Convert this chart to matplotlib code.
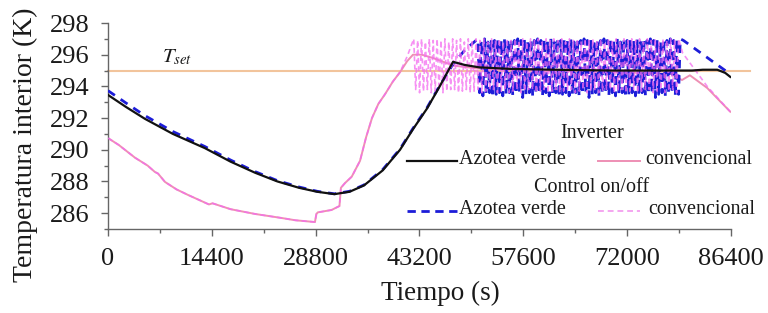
import numpy as np
import matplotlib
matplotlib.use("Agg")
import matplotlib.pyplot as plt
from matplotlib.lines import Line2D

plt.rcParams['font.family'] = ['Liberation Serif', 'DejaVu Serif']
plt.rcParams['mathtext.fontset'] = 'stix'

# ---------------- data ----------------
T_SET = 295.0

# Inverter - azotea verde (black, solid)
inv_verde_t = [0, 2500, 5130, 9000, 13450, 17000, 20400, 23500, 26500, 29000, 31400,
               33500, 35500, 38100, 40500, 42300, 44240, 46000, 47850, 49500, 51500,
               56000, 62000, 70000, 78000, 81000, 82500, 84500, 85600, 86300]
inv_verde_v = [293.46, 292.7, 291.95, 291.0, 290.1, 289.25, 288.55, 288.0, 287.6, 287.35, 287.2,
               287.35, 287.75, 288.7, 290.0, 291.3, 292.6, 294.0, 295.55, 295.35, 295.2,
               295.1, 295.05, 295.0, 295.0, 295.0, 295.05, 295.05, 294.85, 294.6]

# Inverter - convencional (pink, solid)
inv_conv_t = [0, 1500, 3744, 5500, 6500, 6934, 7905, 9500, 11094, 14000, 14500, 17000,
              20385, 24000, 26000, 28700, 28900, 29100, 31000, 32100, 32300, 32870,
              33800, 34950, 35800, 36610, 37500, 38410, 39500, 40500, 41500, 42300,
              43500, 45000, 48000, 52000, 60000, 70000, 78000, 79600, 80700, 83100, 86300]
inv_conv_v = [290.74, 290.3, 289.5, 289.0, 288.6, 288.5, 287.97, 287.5, 287.15, 286.55, 286.62, 286.25,
              285.95, 285.7, 285.55, 285.44, 285.95, 286.05, 286.2, 286.45, 287.6, 287.9,
              288.3, 289.3, 290.8, 292.0, 292.9, 293.5, 294.3, 294.9, 295.6, 296.0,
              296.0, 295.8, 295.3, 295.1, 295.0, 294.9, 294.8, 294.4, 294.7, 293.9, 292.4]

# Control on/off - azotea verde (blue, dashed)
onoff_verde_t = [0, 2500, 5130, 9000, 13450, 17000, 20400, 23500, 26500, 29000, 31400,
                 33500, 35500, 38100, 40500, 42300, 44240, 46000, 47850, 49500,
                 51300, 51530, 51760, 51990, 52220, 52450, 52680, 52910, 53140, 53370,
                 53600, 53830, 54060, 54290, 54520, 54750, 54980, 55210, 55440, 55670,
                 55900, 56130, 56360, 56590, 56820, 57050, 57280, 57510, 57740, 57970,
                 58200, 58430, 58660, 58890, 59120, 59350, 59580, 59810, 60040, 60270,
                 60500, 60730, 60960, 61190, 61420, 61650, 61880, 62110, 62340, 62570,
                 62800, 63030, 63260, 63490, 63720, 63950, 64180, 64410, 64640, 64870,
                 65100, 65330, 65560, 65790, 66020, 66250, 66480, 66710, 66940, 67170,
                 67400, 67630, 67860, 68090, 68320, 68550, 68780, 69010, 69240, 69470,
                 69700, 69930, 70160, 70390, 70620, 70850, 71080, 71310, 71540, 71770,
                 72000, 72230, 72460, 72690, 72920, 73150, 73380, 73610, 73840, 74070,
                 74300, 74530, 74760, 74990, 75220, 75450, 75680, 75910, 76140, 76370,
                 76600, 76830, 77060, 77290, 77520, 77750, 77980, 78210, 78440, 78670,
                 78900, 79130, 79360, 79800, 85600, 86300]
onoff_verde_v = [293.73, 292.95, 292.15, 291.15, 290.2, 289.35, 288.62, 288.05, 287.65, 287.38, 287.22,
                 287.38, 287.78, 288.75, 290.05, 291.35, 292.65, 294.05, 295.4, 296.3,
                 297.0, 293.6, 296.9, 293.4, 297.0, 293.5, 296.8, 293.6, 297.0, 293.3,
                 296.9, 293.5, 297.0, 293.6, 296.9, 293.4, 297.0, 293.5, 296.8, 293.6,
                 297.0, 293.4, 296.9, 293.5, 297.0, 293.6, 296.9, 293.3, 297.0, 293.5,
                 296.8, 293.6, 297.0, 293.4, 296.9, 293.5, 297.0, 293.6, 296.9, 293.4,
                 297.0, 293.6, 296.9, 293.4, 297.0, 293.5, 296.8, 293.6, 297.0, 293.3,
                 296.9, 293.5, 297.0, 293.6, 296.9, 293.4, 297.0, 293.5, 296.8, 293.6,
                 297.0, 293.4, 296.9, 293.5, 297.0, 293.6, 296.9, 293.3, 297.0, 293.5,
                 296.8, 293.6, 297.0, 293.4, 296.9, 293.5, 297.0, 293.6, 296.9, 293.4,
                 297.0, 293.6, 296.9, 293.4, 297.0, 293.5, 296.8, 293.6, 297.0, 293.3,
                 296.9, 293.5, 297.0, 293.6, 296.9, 293.4, 297.0, 293.5, 296.8, 293.6,
                 297.0, 293.4, 296.9, 293.5, 297.0, 293.6, 296.9, 293.3, 297.0, 293.5,
                 296.8, 293.6, 297.0, 293.4, 296.9, 293.5, 297.0, 293.6, 296.9, 293.4,
                 297.0, 293.5, 297.0, 296.9, 295.0, 294.75]

# Control on/off - convencional (light magenta, dashed)
onoff_conv_t = [0, 1500, 3744, 5500, 6500, 6934, 7905, 9500, 11094, 14000, 14500, 17000,
                20385, 24000, 26000, 28700, 28900, 29100, 31000, 32100, 32300, 32870,
                33800, 34950, 35800, 36610, 37500, 38410, 39500, 40500, 41500,
                42400, 42670, 42940, 43210, 43480, 43750, 44020, 44290, 44560, 44830,
                45100, 45370, 45640, 45910, 46180, 46450, 46720, 46990, 47260, 47530,
                47800, 48070, 48340, 48610, 48880, 49150, 49420, 49690, 49960, 50230,
                50500, 50770, 51040, 51310, 51580, 51850, 52120, 52390, 52660, 52930,
                53200, 53470, 53740, 54010, 54280, 54550, 54820, 55090, 55360, 55630,
                55900, 56170, 56440, 56710, 56980, 57250, 57520, 57790, 58060, 58330,
                58600, 58870, 59140, 59410, 59680, 59950, 60220, 60490, 60760, 61030,
                61300, 61570, 61840, 62110, 62380, 62650, 62920, 63190, 63460, 63730,
                64000, 64270, 64540, 64810, 65080, 65350, 65620, 65890, 66160, 66430,
                66700, 66970, 67240, 67510, 67780, 68050, 68320, 68590, 68860, 69130,
                69400, 69670, 69940, 70210, 70480, 70750, 71020, 71290, 71560, 71830,
                72100, 72370, 72640, 72910, 73180, 73450, 73720, 73990, 74260, 74530,
                74800, 75070, 75340, 75610, 75880, 76150, 76420, 76690, 76960, 77230,
                77500, 77770, 78040, 78310, 78580, 78850, 79120,
                79700, 83100, 86300]
onoff_conv_v = [290.74, 290.3, 289.5, 289.0, 288.6, 288.5, 287.97, 287.5, 287.15, 286.55, 286.62, 286.25,
                285.95, 285.7, 285.55, 285.44, 285.95, 286.05, 286.2, 286.45, 287.6, 287.9,
                288.3, 289.3, 290.8, 292.0, 292.9, 293.5, 294.3, 294.9, 295.9,
                297.0, 293.8, 296.9, 293.6, 297.0, 293.7, 296.8, 293.8, 297.0, 293.6,
                296.9, 293.7, 297.0, 293.8, 296.9, 293.6, 297.0, 293.7, 296.8, 293.8,
                297.0, 293.8, 296.9, 293.6, 297.0, 293.7, 296.8, 293.8, 297.0, 293.6,
                296.9, 293.7, 297.0, 293.8, 296.9, 293.6, 297.0, 293.7, 296.8, 293.8,
                297.0, 293.8, 296.9, 293.6, 297.0, 293.7, 296.8, 293.8, 297.0, 293.6,
                296.9, 293.7, 297.0, 293.8, 296.9, 293.6, 297.0, 293.7, 296.8, 293.8,
                297.0, 293.8, 296.9, 293.6, 297.0, 293.7, 296.8, 293.8, 297.0, 293.6,
                296.9, 293.7, 297.0, 293.8, 296.9, 293.6, 297.0, 293.7, 296.8, 293.8,
                297.0, 293.8, 296.9, 293.6, 297.0, 293.7, 296.8, 293.8, 297.0, 293.6,
                296.9, 293.7, 297.0, 293.8, 296.9, 293.6, 297.0, 293.7, 296.8, 293.8,
                297.0, 293.8, 296.9, 293.6, 297.0, 293.7, 296.8, 293.8, 297.0, 293.6,
                296.9, 293.7, 297.0, 293.8, 296.9, 293.6, 297.0, 293.7, 296.8, 293.8,
                297.0, 293.8, 296.9, 293.6, 297.0, 293.7, 296.8, 293.8, 297.0, 293.6,
                296.9, 293.7, 297.0, 293.8, 296.9, 293.6, 297.0,
                296.1, 294.0, 292.4]

x_ticks = [0, 14400, 28800, 43200, 57600, 72000, 86400]
y_ticks = [286, 288, 290, 292, 294, 296, 298]

# ---------------- styling ----------------
C_BLACK = "#111111"
C_PINK = "#ee8fb4"
C_MAGENTA = "#f46cf0"
C_BLUE = "#1c1cd8"
C_TSET = "#f2c49c"
C_AXIS = "#666666"
C_TEXT = "#1a1a1a"

fig = plt.figure(figsize=(7.68, 3.13), dpi=100)
ax = fig.add_axes([108/768, 1 - 229/313, (731-108)/768, (229-23)/313])

ax.axhline(T_SET, xmin=0, xmax=(89000/86400), color=C_TSET, lw=1.5, clip_on=False, zorder=1)
ax.plot(inv_conv_t, inv_conv_v, color=C_PINK, lw=1.4, zorder=2)
ax.plot(onoff_verde_t, onoff_verde_v, color=C_BLUE, lw=2.0, ls=(0, (3, 2.5)), zorder=3)
ax.plot(onoff_conv_t, onoff_conv_v, color=C_MAGENTA, lw=1.2, ls=(0, (3, 2)), alpha=0.75, zorder=4)
ax.plot(inv_verde_t, inv_verde_v, color=C_BLACK, lw=1.6, zorder=5)

ax.text(7490, 295.5, r'$T_{set}$', fontsize=15, color=C_TEXT, ha='left', va='baseline')

ax.set_xlim(0, 86400)
ax.set_ylim(285, 298)
ax.set_xticks(x_ticks)
ax.set_xticks(np.arange(0, 86401, 7200), minor=True)
ax.set_yticks(y_ticks)
ax.set_yticks(np.arange(285, 299, 1), minor=True)
ax.set_xticklabels([str(v) for v in x_ticks])
ax.set_yticklabels([str(v) for v in y_ticks])

for s in ['top', 'right']:
    ax.spines[s].set_visible(False)
for s in ['left', 'bottom']:
    ax.spines[s].set_color(C_AXIS)
    ax.spines[s].set_linewidth(1.0)

ax.tick_params(axis='both', which='major', direction='out', length=5, width=1.0,
               color=C_AXIS, labelsize=19, labelcolor=C_TEXT)
ax.tick_params(axis='both', which='minor', direction='out', length=3, width=1.0, color=C_AXIS)
ax.tick_params(axis='x', which='major', pad=9)
ax.tick_params(axis='y', which='major', pad=8)

fig.text(25/768, 1 - 145/313, 'Temperatura interior (K)', rotation=90, fontsize=20,
         ha='center', va='center', color=C_TEXT)
fig.text(440/768, 1 - 293/313, 'Tiempo (s)', fontsize=19.5, ha='center', va='center', color=C_TEXT)

# ---------------- custom legend (figure pixel coords) ----------------
def fx(px):
    return px / 768

def fy(py):
    return 1 - py / 313

LEG_FS = 14.5
fig.text(fx(592), fy(134), 'Inverter', fontsize=LEG_FS, ha='center', va='center', color=C_TEXT)
fig.text(fx(592), fy(187), 'Control on/off', fontsize=LEG_FS, ha='center', va='center', color=C_TEXT)

fig.add_artist(Line2D([fx(407), fx(457)], [fy(161), fy(161)], color=C_BLACK, lw=1.6))
fig.text(fx(459), fy(160), 'Azotea verde', fontsize=LEG_FS, ha='left', va='center', color=C_TEXT)
fig.add_artist(Line2D([fx(598), fx(640)], [fy(161), fy(161)], color=C_PINK, lw=1.4))
fig.text(fx(645), fy(160), 'convencional', fontsize=LEG_FS, ha='left', va='center', color=C_TEXT)

fig.add_artist(Line2D([fx(407), fx(457)], [fy(211), fy(211)], color=C_BLUE, lw=2.0, ls=(0, (3, 2))))
fig.text(fx(459), fy(210), 'Azotea verde', fontsize=LEG_FS, ha='left', va='center', color=C_TEXT)
fig.add_artist(Line2D([fx(598), fx(640)], [fy(211), fy(211)], color="#f4a6f0", lw=1.4, ls=(0, (3, 2))))
fig.text(fx(648), fy(210), 'convencional', fontsize=LEG_FS, ha='left', va='center', color=C_TEXT)

fig.savefig("out.png", dpi=100)
